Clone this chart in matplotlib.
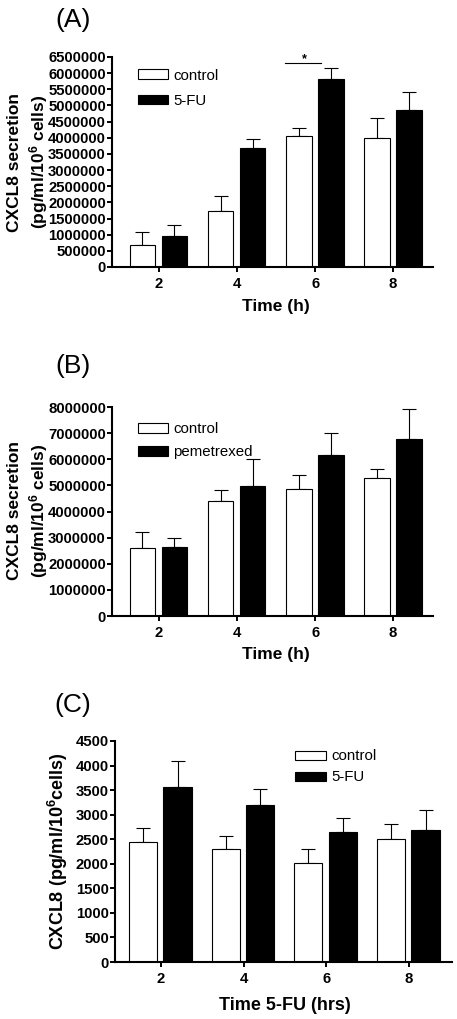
import matplotlib
matplotlib.use("Agg")
import matplotlib.pyplot as plt
import numpy as np

plt.rcParams['font.family'] = ['Liberation Sans', 'DejaVu Sans']
plt.rcParams['mathtext.fontset'] = 'custom'
plt.rcParams['mathtext.rm'] = 'Liberation Sans'
plt.rcParams['mathtext.bf'] = 'Liberation Sans:bold'

# data
times = ['2', '4', '6', '8']

a_control = [680000, 1720000, 4050000, 4000000]
a_control_err = [410000, 480000, 250000, 600000]
a_fu = [950000, 3670000, 5830000, 4860000]
a_fu_err = [340000, 280000, 320000, 560000]

b_control = [2590000, 4400000, 4870000, 5300000]
b_control_err = [610000, 410000, 520000, 310000]
b_pem = [2650000, 4970000, 6180000, 6770000]
b_pem_err = [330000, 1030000, 810000, 1160000]

c_control = [2450, 2300, 2020, 2510]
c_control_err = [270, 270, 280, 310]
c_fu = [3570, 3200, 2640, 2680]
c_fu_err = [530, 320, 300, 420]

W, H = 457, 1019
fig = plt.figure(figsize=(W / 100, H / 100), dpi=100)


def px_axes(left, top, right, bottom):
    return fig.add_axes([left / W, 1 - bottom / H, (right - left) / W, (bottom - top) / H])


def bar_panel(ax, ctrl, ctrl_err, trt, trt_err, names, yticks, xlim, width, offs):
    x = np.arange(len(times))
    ax.bar(x + offs[0], ctrl, width, color='white', edgecolor='black', linewidth=0.8,
           label=names[0], zorder=2)
    ax.bar(x + offs[1], trt, width, color='black', edgecolor='black', linewidth=0.8,
           label=names[1], zorder=2)
    ax.errorbar(x + offs[0], ctrl, yerr=[np.zeros(len(x)), ctrl_err], fmt='none',
                ecolor='black', elinewidth=0.8, capsize=4.7, capthick=0.8, zorder=1)
    ax.errorbar(x + offs[1], trt, yerr=[np.zeros(len(x)), trt_err], fmt='none',
                ecolor='black', elinewidth=0.8, capsize=4.7, capthick=0.8, zorder=1)
    ax.set_xlim(*xlim)
    ax.set_ylim(yticks[0], yticks[-1])
    ax.set_xticks(x)
    ax.set_xticklabels(times)
    ax.set_yticks(yticks)
    ax.set_yticklabels([str(int(v)) for v in yticks])
    for s in ['top', 'right']:
        ax.spines[s].set_visible(False)
    for s in ['left', 'bottom']:
        ax.spines[s].set_linewidth(1.5)
    ax.tick_params(axis='y', direction='out', length=3.6, width=1.4, pad=0.8)
    ax.tick_params(axis='x', direction='out', length=3.6, width=1.4, pad=3.5)
    for lab in ax.get_xticklabels() + ax.get_yticklabels():
        lab.set_fontsize(10.7)
        lab.set_fontweight('bold')


# (A)
axA = px_axes(112, 57, 433, 267)
bar_panel(axA, a_control, a_control_err, a_fu, a_fu_err, ['control', '5-FU'],
          np.arange(0, 6500001, 500000), (-0.60, 3.51), 0.33, (-0.21, 0.2))
axA.legend(loc='upper left', bbox_to_anchor=(0.081, 0.945), frameon=False,
           borderpad=0, borderaxespad=0, handlelength=2.0, handleheight=0.6,
           handletextpad=0.35, labelspacing=0.75, fontsize=10.8)
axA.plot([2 - 0.38, 2 + 0.08], [6320000, 6320000], color='black', lw=0.8, clip_on=False)
axA.text(2 - 0.14, 6440000, '*', ha='center', va='center', fontsize=9, fontweight='bold')

# (B)
axB = px_axes(112, 407, 433, 616)
bar_panel(axB, b_control, b_control_err, b_pem, b_pem_err, ['control', 'pemetrexed'],
          np.arange(0, 8000001, 1000000), (-0.60, 3.51), 0.33, (-0.21, 0.2))
axB.legend(loc='upper left', bbox_to_anchor=(0.081, 0.926), frameon=False,
           borderpad=0, borderaxespad=0, handlelength=2.0, handleheight=0.6,
           handletextpad=0.35, labelspacing=0.6, fontsize=10.8)

# (C)
axC = px_axes(115, 741, 452, 962)
bar_panel(axC, c_control, c_control_err, c_fu, c_fu_err, ['control', '5-FU'],
          np.arange(0, 4501, 500), (-0.556, 3.52), 0.34, (-0.218, 0.2))
axC.legend(loc='upper left', bbox_to_anchor=(0.534, 0.962), frameon=False,
           borderpad=0, borderaxespad=0, handlelength=2.1, handleheight=0.55,
           handletextpad=0.3, labelspacing=0.47, fontsize=10.8)

# labels
for lbl, yc in [('(A)', 20), ('(B)', 366), ('(C)', 705)]:
    fig.text(73 / W, 1 - yc / H, lbl, ha='center', va='center', fontsize=19)

ylab = 'CXCL8 secretion\n(pg/ml/' + r'$\mathbf{10^6}$' + ' cells)'
fig.text(28.5 / W, 1 - 162 / H, ylab, rotation=90, ha='center', va='center',
         multialignment='center', fontsize=12.5, fontweight='bold', linespacing=1.25)
fig.text(28.5 / W, 1 - 511 / H, ylab, rotation=90, ha='center', va='center',
         multialignment='center', fontsize=12.5, fontweight='bold', linespacing=1.25)
fig.text(58 / W, 1 - 851 / H, 'CXCL8 (pg/ml/' + r'$\mathbf{10^6}$' + 'cells)', rotation=90,
         ha='center', va='center', fontsize=13, fontweight='bold')

fig.text(276 / W, 1 - 306 / H, 'Time (h)', ha='center', va='center', fontsize=12.5,
         fontweight='bold')
fig.text(276 / W, 1 - 655 / H, 'Time (h)', ha='center', va='center', fontsize=12.5,
         fontweight='bold')
fig.text(285 / W, 1 - 1005 / H, 'Time 5-FU (hrs)', ha='center', va='center', fontsize=13,
         fontweight='bold')

fig.savefig('out.png', dpi=100)
